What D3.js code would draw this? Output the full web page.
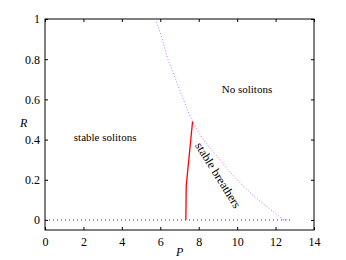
<html>
<head>
  <style>
    body { margin: 0; background: #fff; }
    text { font-family: "Liberation Serif", "Times New Roman", serif; }
  </style>
</head>
<body>
<script src="https://d3js.org/d3.v7.min.js"></script>
<script>
  // tick values
  var xTicks = [0, 2, 4, 6, 8, 10, 12, 14];
  var yTicks = [0, 0.2, 0.4, 0.6, 0.8, 1];

  // purple dotted boundary (no solitons)
  var boundaryP = [5.75, 6.1, 6.4, 6.8, 7.2, 7.68, 8.24, 9.1, 10.0, 11.1, 11.9, 12.4, 12.8];
  var boundaryR = [1.0, 0.9, 0.8, 0.7, 0.6, 0.49, 0.4, 0.3, 0.2, 0.1, 0.04, 0.0, 0.0];

  // red solid boundary (stable solitons / breathers)
  var redP = [7.33, 7.35, 7.68];
  var redR = [0, 0.17, 0.49];

  // black dotted baseline
  var baseP = [0, 12.8];
  var baseR = [0, 0];

  var width = 346, height = 260;
  var mLeft = 45, mRight = 314, mTop = 19, mBottom = 230;

  var svg = d3.select('body').append('svg')
    .attr('width', width).attr('height', height);

  var x = d3.scaleLinear().domain([0, 14]).range([mLeft, mRight]);
  var y = d3.scaleLinear().domain([-0.05, 1]).range([mBottom, mTop]);

  // frame
  svg.append('rect')
    .attr('x', mLeft).attr('y', mTop)
    .attr('width', mRight - mLeft).attr('height', mBottom - mTop)
    .attr('fill', 'none').attr('stroke', '#000').attr('stroke-width', 1);

  // axes, ticks inward
  svg.append('g').attr('transform', 'translate(0,' + mBottom + ')')
    .call(d3.axisBottom(x).tickValues(xTicks).tickSizeInner(-3).tickSizeOuter(0).tickPadding(7))
    .call(function(g){ g.select('.domain').remove(); });
  svg.append('g').attr('transform', 'translate(0,' + mTop + ')')
    .call(d3.axisTop(x).tickValues(xTicks).tickSizeInner(-3).tickSizeOuter(0).tickFormat(''))
    .call(function(g){ g.select('.domain').remove(); });
  svg.append('g').attr('transform', 'translate(' + mLeft + ',0)')
    .call(d3.axisLeft(y).tickValues(yTicks).tickSizeInner(-3).tickSizeOuter(0).tickPadding(5).tickFormat(d3.format('')))
    .call(function(g){ g.select('.domain').remove(); });
  svg.append('g').attr('transform', 'translate(' + mRight + ',0)')
    .call(d3.axisRight(y).tickValues(yTicks).tickSizeInner(-3).tickSizeOuter(0).tickFormat(''))
    .call(function(g){ g.select('.domain').remove(); });

  svg.selectAll('.tick text')
    .style('font-family', '"Liberation Serif", serif')
    .style('font-size', '12px')
    .attr('fill', '#000');

  var line = d3.line().x(function(d){ return x(d[0]); }).y(function(d){ return y(d[1]); });

  // black dotted baseline
  svg.append('path')
    .attr('d', line(d3.zip(baseP, baseR)))
    .attr('fill', 'none').attr('stroke', '#333').attr('stroke-width', 1)
    .attr('stroke-dasharray', '1,3');

  // purple dotted curve
  svg.append('path')
    .attr('d', d3.line().curve(d3.curveMonotoneY)
      .x(function(d){ return x(d[0]); }).y(function(d){ return y(d[1]); })(d3.zip(boundaryP, boundaryR).slice(0, 12)))
    .attr('fill', 'none').attr('stroke', '#c070ff').attr('stroke-width', 1)
    .attr('stroke-dasharray', '1,2');
  svg.append('path')
    .attr('d', line(d3.zip(boundaryP, boundaryR).slice(11)))
    .attr('fill', 'none').attr('stroke', '#c070ff').attr('stroke-width', 1)
    .attr('stroke-dasharray', '1,2');

  // red line
  svg.append('path')
    .attr('d', line(d3.zip(redP, redR)))
    .attr('fill', 'none').attr('stroke', '#ff0000').attr('stroke-width', 1.3);

  // region labels
  svg.append('text').attr('x', x(9.2)).attr('y', y(0.63))
    .attr('font-size', 11).text('No solitons');
  svg.append('text').attr('x', x(1.5)).attr('y', y(0.395))
    .attr('font-size', 11).text('stable solitons');
  svg.append('text')
    .attr('transform', 'translate(' + x(7.8) + ',' + y(0.37) + ') rotate(58)')
    .attr('font-size', 12).text('stable breathers');

  // axis titles
  svg.append('text').attr('x', 20).attr('y', 127)
    .attr('font-size', 12).attr('font-style', 'italic').text('R');
  svg.append('text').attr('x', 176).attr('y', 256)
    .attr('font-size', 12).attr('font-style', 'italic').text('P');
</script>
</body>
</html>
